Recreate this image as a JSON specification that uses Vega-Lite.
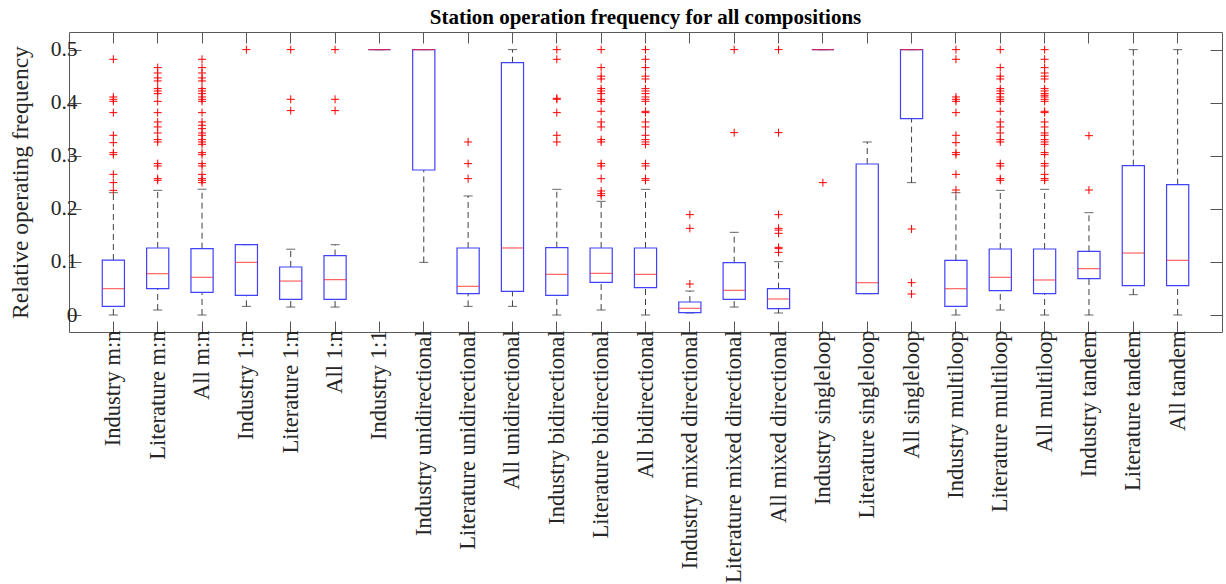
{
  "$schema": "https://vega.github.io/schema/vega-lite/v6.json",
  "width": 1153,
  "height": 300,
  "autosize": {"type": "none"},
  "padding": {"left": 69, "top": 32, "right": 4, "bottom": 252},
  "background": "white",
  "title": {"text": "Station operation frequency for all compositions", "font": "Liberation Serif", "fontSize": 21, "fontWeight": "bold", "color": "#000000", "offset": 4},
  "config": {
    "view": {"stroke": "#5a5a5a", "strokeWidth": 1},
    "axis": {"labelFont": "Liberation Serif", "titleFont": "Liberation Serif", "labelColor": "#262626", "titleColor": "#262626", "tickColor": "#555555", "domainColor": "#5a5a5a", "grid": false, "labelFontSize": 21, "titleFontSize": 23.5, "titleFontWeight": "normal"}
  },
  "datasets": {
    "boxes": [
      {"cat": "Industry m:n", "lo": 0, "q1": 0.0163, "med": 0.0496, "q3": 0.1036, "hi": 0.2305},
      {"cat": "Literature m:n", "lo": 0.0094, "q1": 0.0496, "med": 0.0779, "q3": 0.1263, "hi": 0.2349},
      {"cat": "All m:n", "lo": 0, "q1": 0.0427, "med": 0.071, "q3": 0.125, "hi": 0.237},
      {"cat": "Industry 1:n", "lo": 0.0163, "q1": 0.037, "med": 0.0992, "q3": 0.1325, "hi": 0.1325},
      {"cat": "Literature 1:n", "lo": 0.015, "q1": 0.0295, "med": 0.064, "q3": 0.0905, "hi": 0.124},
      {"cat": "All 1:n", "lo": 0.015, "q1": 0.0295, "med": 0.0666, "q3": 0.112, "hi": 0.1325},
      {"cat": "Industry 1:1", "lo": 0.5, "q1": 0.5, "med": 0.5, "q3": 0.5, "hi": 0.5},
      {"cat": "Industry unidirectional", "lo": 0.0992, "q1": 0.2732, "med": 0.5, "q3": 0.5, "hi": 0.5},
      {"cat": "Literature unidirectional", "lo": 0.0163, "q1": 0.0402, "med": 0.054, "q3": 0.1263, "hi": 0.2243},
      {"cat": "All unidirectional", "lo": 0.0163, "q1": 0.0446, "med": 0.1263, "q3": 0.4755, "hi": 0.5},
      {"cat": "Industry bidirectional", "lo": 0, "q1": 0.037, "med": 0.0766, "q3": 0.1269, "hi": 0.2368},
      {"cat": "Literature bidirectional", "lo": 0.0094, "q1": 0.0616, "med": 0.0785, "q3": 0.1263, "hi": 0.2142},
      {"cat": "All bidirectional", "lo": 0, "q1": 0.0515, "med": 0.0766, "q3": 0.1263, "hi": 0.2368},
      {"cat": "Industry mixed directional", "lo": 0.0038, "q1": 0.0045, "med": 0.0126, "q3": 0.0245, "hi": 0.0452},
      {"cat": "Literature mixed directional", "lo": 0.015, "q1": 0.0295, "med": 0.0465, "q3": 0.0986, "hi": 0.1558},
      {"cat": "All mixed directional", "lo": 0.0038, "q1": 0.0119, "med": 0.0302, "q3": 0.0496, "hi": 0.1005},
      {"cat": "Industry singleloop", "lo": 0.5, "q1": 0.5, "med": 0.5, "q3": 0.5, "hi": 0.5},
      {"cat": "Literature singleloop", "lo": 0.0402, "q1": 0.0402, "med": 0.0609, "q3": 0.2845, "hi": 0.326},
      {"cat": "All singleloop", "lo": 0.2494, "q1": 0.37, "med": 0.5, "q3": 0.5, "hi": 0.5},
      {"cat": "Industry multiloop", "lo": 0, "q1": 0.0163, "med": 0.0496, "q3": 0.103, "hi": 0.2305},
      {"cat": "Literature multiloop", "lo": 0.0094, "q1": 0.0459, "med": 0.071, "q3": 0.1244, "hi": 0.2349},
      {"cat": "All multiloop", "lo": 0, "q1": 0.0402, "med": 0.066, "q3": 0.1244, "hi": 0.2368},
      {"cat": "Industry tandem", "lo": 0, "q1": 0.0685, "med": 0.0873, "q3": 0.12, "hi": 0.1928},
      {"cat": "Literature tandem", "lo": 0.0383, "q1": 0.0553, "med": 0.1168, "q3": 0.2814, "hi": 0.5},
      {"cat": "All tandem", "lo": 0, "q1": 0.0553, "med": 0.103, "q3": 0.2456, "hi": 0.5}
    ],
    "outs": [
      {"cat": "Industry m:n", "v": 0.4818}, {"cat": "Industry m:n", "v": 0.4108}, {"cat": "Industry m:n", "v": 0.4064}, {"cat": "Industry m:n", "v": 0.4026}, {"cat": "Industry m:n", "v": 0.3813}, {"cat": "Industry m:n", "v": 0.3386}, {"cat": "Industry m:n", "v": 0.3247}, {"cat": "Industry m:n", "v": 0.3059}, {"cat": "Industry m:n", "v": 0.3021}, {"cat": "Industry m:n", "v": 0.265}, {"cat": "Industry m:n", "v": 0.2494}, {"cat": "Industry m:n", "v": 0.2349},
      {"cat": "Literature m:n", "v": 0.4661}, {"cat": "Literature m:n", "v": 0.456}, {"cat": "Literature m:n", "v": 0.4466}, {"cat": "Literature m:n", "v": 0.441}, {"cat": "Literature m:n", "v": 0.4265}, {"cat": "Literature m:n", "v": 0.4221}, {"cat": "Literature m:n", "v": 0.4171}, {"cat": "Literature m:n", "v": 0.4026}, {"cat": "Literature m:n", "v": 0.3813}, {"cat": "Literature m:n", "v": 0.3637}, {"cat": "Literature m:n", "v": 0.3543}, {"cat": "Literature m:n", "v": 0.343}, {"cat": "Literature m:n", "v": 0.3304}, {"cat": "Literature m:n", "v": 0.326}, {"cat": "Literature m:n", "v": 0.2852}, {"cat": "Literature m:n", "v": 0.2808}, {"cat": "Literature m:n", "v": 0.2569}, {"cat": "Literature m:n", "v": 0.2538},
      {"cat": "All m:n", "v": 0.4818}, {"cat": "All m:n", "v": 0.4661}, {"cat": "All m:n", "v": 0.456}, {"cat": "All m:n", "v": 0.4466}, {"cat": "All m:n", "v": 0.441}, {"cat": "All m:n", "v": 0.4265}, {"cat": "All m:n", "v": 0.4221}, {"cat": "All m:n", "v": 0.4171}, {"cat": "All m:n", "v": 0.4108}, {"cat": "All m:n", "v": 0.4064}, {"cat": "All m:n", "v": 0.4026}, {"cat": "All m:n", "v": 0.3813}, {"cat": "All m:n", "v": 0.3637}, {"cat": "All m:n", "v": 0.3574}, {"cat": "All m:n", "v": 0.3511}, {"cat": "All m:n", "v": 0.343}, {"cat": "All m:n", "v": 0.3386}, {"cat": "All m:n", "v": 0.3304}, {"cat": "All m:n", "v": 0.326}, {"cat": "All m:n", "v": 0.3216}, {"cat": "All m:n", "v": 0.3059}, {"cat": "All m:n", "v": 0.3021}, {"cat": "All m:n", "v": 0.2852}, {"cat": "All m:n", "v": 0.2808}, {"cat": "All m:n", "v": 0.265}, {"cat": "All m:n", "v": 0.2569}, {"cat": "All m:n", "v": 0.2538}, {"cat": "All m:n", "v": 0.2494},
      {"cat": "Industry 1:n", "v": 0.5},
      {"cat": "Literature 1:n", "v": 0.5}, {"cat": "Literature 1:n", "v": 0.4064}, {"cat": "Literature 1:n", "v": 0.3851},
      {"cat": "All 1:n", "v": 0.5}, {"cat": "All 1:n", "v": 0.4064}, {"cat": "All 1:n", "v": 0.3851},
      {"cat": "Literature unidirectional", "v": 0.326}, {"cat": "Literature unidirectional", "v": 0.2852}, {"cat": "Literature unidirectional", "v": 0.2569},
      {"cat": "Industry bidirectional", "v": 0.5}, {"cat": "Industry bidirectional", "v": 0.4818}, {"cat": "Industry bidirectional", "v": 0.4083}, {"cat": "Industry bidirectional", "v": 0.4064}, {"cat": "Industry bidirectional", "v": 0.3813}, {"cat": "Industry bidirectional", "v": 0.3386}, {"cat": "Industry bidirectional", "v": 0.326},
      {"cat": "Literature bidirectional", "v": 0.5}, {"cat": "Literature bidirectional", "v": 0.4661}, {"cat": "Literature bidirectional", "v": 0.45}, {"cat": "Literature bidirectional", "v": 0.4447}, {"cat": "Literature bidirectional", "v": 0.4265}, {"cat": "Literature bidirectional", "v": 0.4221}, {"cat": "Literature bidirectional", "v": 0.4171}, {"cat": "Literature bidirectional", "v": 0.4064}, {"cat": "Literature bidirectional", "v": 0.4026}, {"cat": "Literature bidirectional", "v": 0.3838}, {"cat": "Literature bidirectional", "v": 0.3637}, {"cat": "Literature bidirectional", "v": 0.3543}, {"cat": "Literature bidirectional", "v": 0.3304}, {"cat": "Literature bidirectional", "v": 0.326}, {"cat": "Literature bidirectional", "v": 0.2852}, {"cat": "Literature bidirectional", "v": 0.2808}, {"cat": "Literature bidirectional", "v": 0.2569}, {"cat": "Literature bidirectional", "v": 0.2337}, {"cat": "Literature bidirectional", "v": 0.2286}, {"cat": "Literature bidirectional", "v": 0.2249},
      {"cat": "All bidirectional", "v": 0.5}, {"cat": "All bidirectional", "v": 0.4818}, {"cat": "All bidirectional", "v": 0.4661}, {"cat": "All bidirectional", "v": 0.45}, {"cat": "All bidirectional", "v": 0.4447}, {"cat": "All bidirectional", "v": 0.4265}, {"cat": "All bidirectional", "v": 0.4221}, {"cat": "All bidirectional", "v": 0.4171}, {"cat": "All bidirectional", "v": 0.4108}, {"cat": "All bidirectional", "v": 0.4064}, {"cat": "All bidirectional", "v": 0.4026}, {"cat": "All bidirectional", "v": 0.3838}, {"cat": "All bidirectional", "v": 0.3813}, {"cat": "All bidirectional", "v": 0.3637}, {"cat": "All bidirectional", "v": 0.3543}, {"cat": "All bidirectional", "v": 0.3386}, {"cat": "All bidirectional", "v": 0.3304}, {"cat": "All bidirectional", "v": 0.326}, {"cat": "All bidirectional", "v": 0.3216}, {"cat": "All bidirectional", "v": 0.2852}, {"cat": "All bidirectional", "v": 0.2808}, {"cat": "All bidirectional", "v": 0.2569}, {"cat": "All bidirectional", "v": 0.2538},
      {"cat": "Industry mixed directional", "v": 0.1891}, {"cat": "Industry mixed directional", "v": 0.1633}, {"cat": "Industry mixed directional", "v": 0.0584},
      {"cat": "Literature mixed directional", "v": 0.5}, {"cat": "Literature mixed directional", "v": 0.3436},
      {"cat": "All mixed directional", "v": 0.5}, {"cat": "All mixed directional", "v": 0.3436}, {"cat": "All mixed directional", "v": 0.1891}, {"cat": "All mixed directional", "v": 0.1633}, {"cat": "All mixed directional", "v": 0.16}, {"cat": "All mixed directional", "v": 0.1539}, {"cat": "All mixed directional", "v": 0.1275}, {"cat": "All mixed directional", "v": 0.125}, {"cat": "All mixed directional", "v": 0.1181},
      {"cat": "Industry singleloop", "v": 0.2494},
      {"cat": "All singleloop", "v": 0.1621}, {"cat": "All singleloop", "v": 0.0609}, {"cat": "All singleloop", "v": 0.0396},
      {"cat": "Industry multiloop", "v": 0.5}, {"cat": "Industry multiloop", "v": 0.4818}, {"cat": "Industry multiloop", "v": 0.4108}, {"cat": "Industry multiloop", "v": 0.4064}, {"cat": "Industry multiloop", "v": 0.4026}, {"cat": "Industry multiloop", "v": 0.3813}, {"cat": "Industry multiloop", "v": 0.3386}, {"cat": "Industry multiloop", "v": 0.3247}, {"cat": "Industry multiloop", "v": 0.3059}, {"cat": "Industry multiloop", "v": 0.3021}, {"cat": "Industry multiloop", "v": 0.265}, {"cat": "Industry multiloop", "v": 0.2355},
      {"cat": "Literature multiloop", "v": 0.5}, {"cat": "Literature multiloop", "v": 0.4661}, {"cat": "Literature multiloop", "v": 0.45}, {"cat": "Literature multiloop", "v": 0.4447}, {"cat": "Literature multiloop", "v": 0.4265}, {"cat": "Literature multiloop", "v": 0.4221}, {"cat": "Literature multiloop", "v": 0.4171}, {"cat": "Literature multiloop", "v": 0.4108}, {"cat": "Literature multiloop", "v": 0.4064}, {"cat": "Literature multiloop", "v": 0.4026}, {"cat": "Literature multiloop", "v": 0.3838}, {"cat": "Literature multiloop", "v": 0.3637}, {"cat": "Literature multiloop", "v": 0.3543}, {"cat": "Literature multiloop", "v": 0.343}, {"cat": "Literature multiloop", "v": 0.3304}, {"cat": "Literature multiloop", "v": 0.326}, {"cat": "Literature multiloop", "v": 0.2852}, {"cat": "Literature multiloop", "v": 0.2808}, {"cat": "Literature multiloop", "v": 0.2569}, {"cat": "Literature multiloop", "v": 0.2538},
      {"cat": "All multiloop", "v": 0.5}, {"cat": "All multiloop", "v": 0.4818}, {"cat": "All multiloop", "v": 0.4661}, {"cat": "All multiloop", "v": 0.456}, {"cat": "All multiloop", "v": 0.45}, {"cat": "All multiloop", "v": 0.4447}, {"cat": "All multiloop", "v": 0.4265}, {"cat": "All multiloop", "v": 0.4221}, {"cat": "All multiloop", "v": 0.4171}, {"cat": "All multiloop", "v": 0.414}, {"cat": "All multiloop", "v": 0.4108}, {"cat": "All multiloop", "v": 0.4064}, {"cat": "All multiloop", "v": 0.4026}, {"cat": "All multiloop", "v": 0.3838}, {"cat": "All multiloop", "v": 0.3813}, {"cat": "All multiloop", "v": 0.3637}, {"cat": "All multiloop", "v": 0.3543}, {"cat": "All multiloop", "v": 0.343}, {"cat": "All multiloop", "v": 0.3386}, {"cat": "All multiloop", "v": 0.3304}, {"cat": "All multiloop", "v": 0.326}, {"cat": "All multiloop", "v": 0.3216}, {"cat": "All multiloop", "v": 0.3059}, {"cat": "All multiloop", "v": 0.3021}, {"cat": "All multiloop", "v": 0.2852}, {"cat": "All multiloop", "v": 0.2808}, {"cat": "All multiloop", "v": 0.265}, {"cat": "All multiloop", "v": 0.2569}, {"cat": "All multiloop", "v": 0.2538},
      {"cat": "Industry tandem", "v": 0.3379}, {"cat": "Industry tandem", "v": 0.2355}
    ]
  },
  "layer": [
    {
      "data": {"name": "boxes"},
      "encoding": {
        "x": {"field": "cat", "type": "nominal", "sort": null, "title": null,
          "scale": {"type": "band", "paddingInner": 0, "paddingOuter": 0.5, "domain": ["Industry m:n", "Literature m:n", "All m:n", "Industry 1:n", "Literature 1:n", "All 1:n", "Industry 1:1", "Industry unidirectional", "Literature unidirectional", "All unidirectional", "Industry bidirectional", "Literature bidirectional", "All bidirectional", "Industry mixed directional", "Literature mixed directional", "All mixed directional", "Industry singleloop", "Literature singleloop", "All singleloop", "Industry multiloop", "Literature multiloop", "All multiloop", "Industry tandem", "Literature tandem", "All tandem"]},
          "axis": {"orient": "bottom", "labelAngle": -90, "labelAlign": "right", "labelBaseline": "middle", "labelPadding": 9, "labelLimit": 400, "labelFontSize": 22.5, "domain": false, "tickSize": -11}
        }
      },
      "layer": [
        {"mark": {"type": "rule", "color": "#404040", "strokeDash": [6, 4], "strokeWidth": 1},
          "encoding": {
            "y": {"field": "lo", "type": "quantitative", "title": "Relative operating frequency", "scale": {"domain": [-0.032, 0.5332], "nice": false, "zero": false},
              "axis": {"orient": "left", "values": [0, 0.1, 0.2, 0.3, 0.4, 0.5], "format": ".1~f", "labelPadding": 4, "titlePadding": 18, "domain": false, "tickSize": -12, "labelFontSize": 21.5}},
            "y2": {"field": "q1"}
          }},
        {"mark": {"type": "rule", "color": "#404040", "strokeDash": [6, 4], "strokeWidth": 1},
          "encoding": {
            "y": {"field": "q3", "type": "quantitative", "title": "Relative operating frequency"},
            "y2": {"field": "hi"}
          }},
        {"mark": {"type": "tick", "color": "#262626", "size": 9, "thickness": 1},
          "encoding": {"y": {"field": "lo", "type": "quantitative", "title": "Relative operating frequency"}}},
        {"mark": {"type": "tick", "color": "#262626", "size": 9, "thickness": 1},
          "encoding": {"y": {"field": "hi", "type": "quantitative", "title": "Relative operating frequency"}}},
        {"mark": {"type": "bar", "fill": "white", "fillOpacity": 0, "stroke": "#4040ff", "strokeWidth": 1.2, "width": {"band": 0.5}},
          "encoding": {
            "y": {"field": "q1", "type": "quantitative", "title": "Relative operating frequency"},
            "y2": {"field": "q3"}
          }},
        {"mark": {"type": "tick", "color": "#ff2020", "size": 22, "thickness": 1.2},
          "encoding": {"y": {"field": "med", "type": "quantitative", "title": "Relative operating frequency"}}},
        {"data": {"name": "outs"},
          "mark": {"type": "point", "shape": "M-1,0H1M0,-1V1", "size": 64, "filled": false, "stroke": "#ff0000", "strokeWidth": 1, "opacity": 1},
          "encoding": {"y": {"field": "v", "type": "quantitative", "title": "Relative operating frequency"}}}
      ]
    },
    {
      "data": {"name": "boxes"},
      "mark": {"type": "point", "opacity": 0},
      "encoding": {
        "x": {"field": "cat", "type": "nominal", "sort": null, "title": null,
          "scale": {"type": "band", "paddingInner": 0, "paddingOuter": 0.5, "domain": ["Industry m:n", "Literature m:n", "All m:n", "Industry 1:n", "Literature 1:n", "All 1:n", "Industry 1:1", "Industry unidirectional", "Literature unidirectional", "All unidirectional", "Industry bidirectional", "Literature bidirectional", "All bidirectional", "Industry mixed directional", "Literature mixed directional", "All mixed directional", "Industry singleloop", "Literature singleloop", "All singleloop", "Industry multiloop", "Literature multiloop", "All multiloop", "Industry tandem", "Literature tandem", "All tandem"]},
          "axis": {"orient": "top", "labels": false, "domain": false, "tickSize": -11}},
        "y": {"field": "med", "type": "quantitative", "title": null,
          "scale": {"domain": [-0.032, 0.5332], "nice": false, "zero": false},
          "axis": {"orient": "right", "labels": false, "values": [0, 0.1, 0.2, 0.3, 0.4, 0.5], "domain": false, "tickSize": -12}}
      }
    }
  ],
  "resolve": {"axis": {"x": "independent", "y": "independent"}}
}
